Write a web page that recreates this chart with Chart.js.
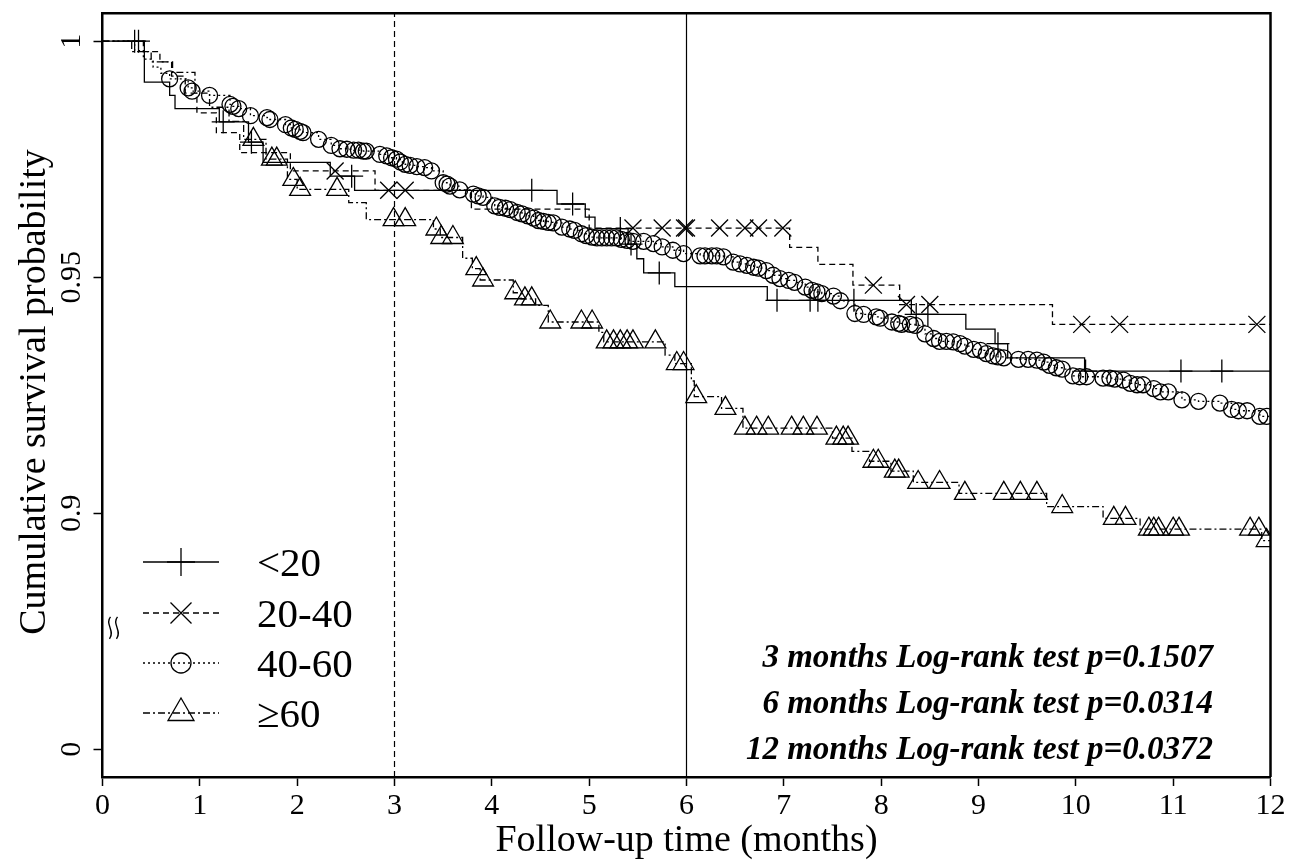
<!DOCTYPE html>
<html>
<head>
<meta charset="utf-8">
<script src="https://cdn.jsdelivr.net/npm/chart.js@4.4.1/dist/chart.umd.min.js"></script>
<style>
  html, body { margin: 0; padding: 0; background: #ffffff; }
  canvas { display: block; }
</style>
</head>
<body>
<canvas id="km" width="1289" height="861"></canvas>
<script>
// ---------- data ----------
const xTicks = [0,1,2,3,4,5,6,7,8,9,10,11,12];
const yTickValues = [0.85, 0.9, 0.95, 1];      // 0.85 position carries the broken-axis "0"
const yTickLabels = ['0', '0.9', '0.95', '1'];
const yBreakAt = 0.8757;
const groupNames = ['<20', '20-40', '40-60', '\u226560'];
const refLines = [3, 6];
const testLabels = [
  '3 months Log-rank test p=0.1507',
  '6 months Log-rank test p=0.0314',
  '12 months Log-rank test p=0.0372'
];

// <20 : survival steps and censor marks [month, survival]
const lt20Steps = [[0,1],[0.43,0.9913],[0.69,0.9885],[0.745,0.9857],[1.2,0.9829],[1.5,0.9786],[1.65,0.9743],
  [2.34,0.9714],[2.59,0.9684],[4.67,0.9655],[4.96,0.9627],[5.06,0.9603],[5.40,0.9570],[5.49,0.9539],
  [5.56,0.9509],[5.88,0.9480],[6.83,0.9451],[8.31,0.9421],[8.87,0.9390],[9.17,0.9359],[9.30,0.9329],
  [10.09,0.9301],[12,0.9301]];
const lt20Censor = [[0.33,1],[0.37,1],[1.24,0.9829],[1.53,0.9786],[2.56,0.9714],[4.41,0.9684],[4.83,0.9655],
  [5.32,0.9603],[5.43,0.9570],[5.72,0.9509],[6.93,0.9451],[7.27,0.9451],[7.35,0.9451],[7.72,0.9451],
  [8.36,0.9421],[8.48,0.9421],[9.20,0.9359],[10.10,0.9301],[11.08,0.9301],[11.50,0.9301]];

// 20-40
const g2040Steps = [[0,1],[0.42,0.9978],[0.59,0.9956],[0.71,0.9926],[0.85,0.9890],[0.97,0.9848],[1.17,0.9806],
  [1.41,0.9764],[1.93,0.9725],[2.80,0.9684],[3.79,0.9644],[5.00,0.9604],[7.06,0.9563],[7.35,0.9527],
  [7.71,0.9483],[8.19,0.9442],[9.76,0.9400],[12,0.9400]];
const g2040Censor = [[2.39,0.9725],[2.94,0.9684],[3.11,0.9684],[5.45,0.9604],[5.75,0.9604],[5.98,0.9604],
  [6.00,0.9604],[6.34,0.9604],[6.60,0.9604],[6.74,0.9604],[6.99,0.9604],[7.92,0.9483],[8.26,0.9442],
  [8.50,0.9442],[10.06,0.9400],[10.45,0.9400],[11.86,0.9400]];

// 40-60 (early events, then censor circles that trace the curve)
const g4060Steps = [[0,1],[0.27,1],[0.33,0.9980],[0.42,0.9962],[0.52,0.9945],[0.60,0.9932]];
const g4060Censor = [[0.69,0.9920],[0.88,0.9901],[0.92,0.9894],[1.10,0.9885],[1.31,0.9866],[1.34,0.9862],
  [1.40,0.9857],[1.52,0.9842],[1.69,0.9838],[1.72,0.9834],[1.88,0.9823],[1.94,0.9816],[1.98,0.9813],
  [2.03,0.9809],[2.06,0.9806],[2.22,0.9792],[2.35,0.9779],[2.44,0.9772],[2.51,0.9771],[2.58,0.9769],
  [2.63,0.9769],[2.68,0.9767],[2.71,0.9767],[2.85,0.9760],[2.92,0.9757],[2.97,0.9753],[3.02,0.9750],
  [3.06,0.9744],[3.11,0.9739],[3.16,0.9737],[3.23,0.9734],[3.31,0.9732],[3.38,0.9725],[3.50,0.9700],
  [3.54,0.9697],[3.57,0.9693],[3.67,0.9685],[3.81,0.9676],[3.86,0.9672],[3.91,0.9669],[4.03,0.9651],
  [4.08,0.9648],[4.14,0.9646],[4.19,0.9643],[4.26,0.9637],[4.31,0.9634],[4.37,0.9630],[4.43,0.9625],
  [4.48,0.9620],[4.53,0.9618],[4.58,0.9616],[4.63,0.9615],[4.72,0.9606],[4.80,0.9602],[4.85,0.9599],
  [4.92,0.9592],[4.97,0.9588],[5.03,0.9585],[5.08,0.9583],[5.13,0.9583],[5.18,0.9583],[5.23,0.9583],
  [5.28,0.9583],[5.33,0.9580],[5.39,0.9578],[5.45,0.9576],[5.56,0.9576],[5.66,0.9571],[5.75,0.9564],
  [5.86,0.9557],[5.97,0.9550],[6.14,0.9545],[6.19,0.9545],[6.26,0.9545],[6.31,0.9545],[6.38,0.9543],
  [6.48,0.9532],[6.55,0.9528],[6.62,0.9525],[6.69,0.9521],[6.74,0.9519],[6.82,0.9514],[6.89,0.9504],
  [6.96,0.9497],[7.05,0.9493],[7.11,0.9489],[7.22,0.9479],[7.29,0.9472],[7.34,0.9469],[7.39,0.9465],
  [7.51,0.9460],[7.58,0.9450],[7.73,0.9423],[7.82,0.9421],[7.95,0.9416],[7.99,0.9413],[8.11,0.9405],
  [8.18,0.9402],[8.21,0.9400],[8.30,0.9400],[8.35,0.9398],[8.45,0.9380],[8.54,0.9370],[8.60,0.9364],
  [8.67,0.9364],[8.74,0.9363],[8.81,0.9359],[8.86,0.9354],[8.95,0.9347],[9.02,0.9345],[9.08,0.9338],
  [9.15,0.9333],[9.20,0.9331],[9.26,0.9329],[9.41,0.9326],[9.51,0.9326],[9.60,0.9324],[9.67,0.9320],
  [9.73,0.9313],[9.80,0.9308],[9.86,0.9305],[9.97,0.9291],[10.04,0.9289],[10.11,0.9289],[10.28,0.9286],
  [10.35,0.9286],[10.40,0.9284],[10.49,0.9282],[10.56,0.9275],[10.63,0.9272],[10.69,0.9272],[10.80,0.9264],
  [10.87,0.9257],[10.95,0.9257],[11.09,0.9240],[11.26,0.9237],[11.48,0.9233],[11.60,0.9220],[11.67,0.9217],
  [11.76,0.9217],[11.89,0.9205],[11.96,0.9205]];
const g4060End = [[12,0.9205]];

// >=60
const g60Steps = [[0,1],[0.30,0.9978],[0.50,0.9956],[0.72,0.9934],[0.95,0.9890],[1.10,0.9860],[1.30,0.9830],
  [1.45,0.9792],[1.68,0.9750],[1.90,0.9707],[2.00,0.9686],[2.53,0.9658],[2.71,0.9622],[3.40,0.9602],
  [3.47,0.9584],[3.70,0.9540],[3.80,0.9518],[3.88,0.9494],[4.22,0.9467],[4.30,0.9454],[4.45,0.9440],
  [4.58,0.9405],[5.10,0.9383],[5.15,0.9363],[5.78,0.9335],[5.88,0.9317],[6.05,0.9280],[6.08,0.9247],
  [6.36,0.9222],[6.58,0.9180],[7.50,0.9159],[7.70,0.9131],[7.88,0.9110],[8.10,0.9089],[8.33,0.9065],
  [8.80,0.9042],[9.70,0.9014],[10.28,0.8989],[10.66,0.8966],[11.91,0.8942],[12,0.8942]];
const g60Censor = [[1.55,0.9792],[1.74,0.9750],[1.79,0.9750],[1.96,0.9707],[2.03,0.9686],[2.41,0.9686],
  [2.99,0.9622],[3.11,0.9622],[3.43,0.9602],[3.48,0.9584],[3.60,0.9584],[3.84,0.9518],[3.91,0.9494],
  [4.24,0.9467],[4.34,0.9454],[4.41,0.9454],[4.60,0.9405],[4.92,0.9405],[5.03,0.9405],[5.18,0.9363],
  [5.25,0.9363],[5.32,0.9363],[5.39,0.9363],[5.45,0.9363],[5.68,0.9363],[5.90,0.9317],[5.97,0.9317],
  [6.10,0.9247],[6.40,0.9222],[6.60,0.9180],[6.72,0.9180],[6.84,0.9180],[7.08,0.9180],[7.20,0.9180],
  [7.34,0.9180],[7.54,0.9159],[7.61,0.9159],[7.66,0.9159],[7.92,0.9110],[7.97,0.9110],[8.14,0.9089],
  [8.18,0.9089],[8.38,0.9065],[8.60,0.9065],[8.86,0.9042],[9.26,0.9042],[9.43,0.9042],[9.60,0.9042],
  [9.86,0.9014],[10.39,0.8989],[10.51,0.8989],[10.75,0.8966],[10.80,0.8966],[10.85,0.8966],[11.00,0.8966],
  [11.06,0.8966],[11.79,0.8966],[11.88,0.8966],[11.96,0.8942]];

// ---------- helpers ----------
const Y_MIN = 0.8441, Y_MAX = 1.0059;
const SERIF = "'Liberation Serif', 'Times New Roman', Times, serif";
const pts = arr => arr.map(p => ({x: p[0], y: p[1]}));
const byX = (a, b) => a.x - b.x;

// Chart.js 'before' = hold previous level, drop at the new x (Kaplan-Meier steps)
const stepLine = (label, data, dash) => ({
  type: 'line', label, data, stepped: 'before', borderColor: '#000', borderWidth: 1.3,
  borderDash: dash, pointRadius: 0, fill: false, clip: 0, order: 2
});
const marks = (label, data, style, r) => ({
  type: 'line', label, data, showLine: false, pointStyle: style, pointRadius: r,
  pointBorderColor: '#000', pointBackgroundColor: 'rgba(0,0,0,0)', pointBorderWidth: 1.3,
  pointHoverRadius: r, clip: 0, order: 1
});

const datasets = [
  ...refLines.map((v, i) => ({
    type: 'line', label: 'ref' + v, data: [{x: v, y: Y_MIN}, {x: v, y: Y_MAX}],
    borderColor: '#000', borderWidth: 1.2, borderDash: i === 0 ? [6, 4] : [], pointRadius: 0, clip: 0, order: 3
  })),
  stepLine(groupNames[0], pts(lt20Steps), []),
  marks(groupNames[0] + ' censored', pts(lt20Censor), 'cross', 11.5),
  stepLine(groupNames[1], pts(g2040Steps), [6, 4]),
  marks(groupNames[1] + ' censored', pts(g2040Censor), 'crossRot', 12),
  stepLine(groupNames[2], pts(g4060Steps.concat(g4060Censor, g4060End)).sort(byX), [2, 3]),
  marks(groupNames[2] + ' censored', pts(g4060Censor), 'circle', 8),
  stepLine(groupNames[3], pts(g60Steps), [7, 3, 2, 3]),
  marks(groupNames[3] + ' censored', pts(g60Censor), 'triangle', 12)
];

// ---------- custom drawing: frame, rotated y labels, titles, legend, notes ----------
const decorPlugin = {
  id: 'decor',
  afterDraw(chart) {
    const ctx = chart.ctx, a = chart.chartArea;
    const ys = chart.scales.y;
    ctx.save();
    ctx.fillStyle = '#000';
    ctx.strokeStyle = '#000';
    // frame (top + right)
    ctx.lineWidth = 2.5;
    ctx.setLineDash([]);
    ctx.beginPath();
    ctx.moveTo(a.left, a.top); ctx.lineTo(a.right, a.top); ctx.lineTo(a.right, a.bottom);
    ctx.stroke();

    // y tick labels, rotated
    ctx.font = '30px ' + SERIF;
    ctx.textAlign = 'center';
    ctx.textBaseline = 'alphabetic';
    yTickValues.forEach((v, i) => {
      const py = ys.getPixelForValue(v);
      ctx.save();
      ctx.translate(a.left - 23, py);
      ctx.rotate(-Math.PI / 2);
      ctx.fillText(yTickLabels[i], 0, 0);
      ctx.restore();
    });

    // axis break mark (two slanted wavy strokes)
    const by = ys.getPixelForValue(yBreakAt);
    ctx.lineWidth = 1.4;
    [0, 7].forEach(dx => {
      const x0 = a.left + 5 + dx;
      ctx.beginPath();
      ctx.moveTo(x0 + 3, by - 11);
      ctx.bezierCurveTo(x0 - 3, by - 4, x0 + 8, by + 3, x0 + 2, by + 11);
      ctx.stroke();
    });

    // axis titles
    ctx.font = '38px ' + SERIF;
    ctx.save();
    ctx.translate(45, 392);
    ctx.rotate(-Math.PI / 2);
    ctx.fillText('Cumulative survival probability', 0, 0);
    ctx.restore();
    ctx.fillText('Follow-up time (months)', (a.left + a.right) / 2, 851);

    // legend
    const legY = [562, 613, 663, 713];
    const dashes = [[], [6, 4], [2, 3], [7, 3, 2, 3]];
    ctx.lineWidth = 1.3;
    legY.forEach((y, i) => {
      ctx.setLineDash(dashes[i]);
      ctx.beginPath(); ctx.moveTo(143, y); ctx.lineTo(219, y); ctx.stroke();
      ctx.setLineDash([]);
      ctx.beginPath();
      const cx = 181;
      if (i === 0) { ctx.moveTo(cx, y - 14); ctx.lineTo(cx, y + 14); ctx.moveTo(cx - 14, y); ctx.lineTo(cx + 14, y); }
      else if (i === 1) { const d = 10.5; ctx.moveTo(cx - d, y - d); ctx.lineTo(cx + d, y + d); ctx.moveTo(cx - d, y + d); ctx.lineTo(cx + d, y - d); }
      else if (i === 2) { ctx.arc(cx, y, 10, 0, Math.PI * 2); }
      else { const r = 15; ctx.moveTo(cx, y - r); ctx.lineTo(cx + r * 0.866, y + r / 2); ctx.lineTo(cx - r * 0.866, y + r / 2); ctx.closePath(); }
      ctx.stroke();
    });
    ctx.font = '41px ' + SERIF;
    ctx.textAlign = 'left';
    groupNames.forEach((g, i) => ctx.fillText(g, 257, legY[i] + 14));

    // log-rank notes
    ctx.font = 'italic bold 33px ' + SERIF;
    ctx.textAlign = 'right';
    const noteY = [667, 713, 759];
    testLabels.forEach((t, i) => ctx.fillText(t, 1213, noteY[i]));
    ctx.restore();
  }
};

new Chart(document.getElementById('km'), {
  type: 'line',
  data: { datasets },
  options: {
    responsive: false,
    animation: false,
    devicePixelRatio: 1,
    layout: { padding: { top: 10, right: 18.5, left: 0, bottom: 0 } },
    plugins: { legend: { display: false }, tooltip: { enabled: false }, title: { display: false } },
    events: [],
    scales: {
      x: {
        type: 'linear', min: 0, max: 12,
        afterBuildTicks: s => { s.ticks = xTicks.map(v => ({value: v})); },
        afterFit: s => { s.height = 84; },
        ticks: { color: '#000', font: { family: SERIF, size: 30 }, padding: 2, maxRotation: 0, autoSkip: false },
        grid: { drawOnChartArea: false, drawTicks: true, tickLength: 9, tickWidth: 1.5, tickColor: '#000', color: '#000' },
        border: { display: true, color: '#000', width: 2.5 }
      },
      y: {
        type: 'linear', min: Y_MIN, max: Y_MAX,
        afterBuildTicks: s => { s.ticks = yTickValues.map(v => ({value: v})); },
        afterFit: s => { s.width = 102.5; },
        ticks: { color: 'rgba(0,0,0,0)', font: { size: 10 }, callback: () => '' },
        grid: { drawOnChartArea: false, drawTicks: true, tickLength: 9, tickWidth: 1.5, tickColor: '#000', color: '#000' },
        border: { display: true, color: '#000', width: 2.5 }
      }
    }
  },
  plugins: [decorPlugin]
});
</script>
</body>
</html>
